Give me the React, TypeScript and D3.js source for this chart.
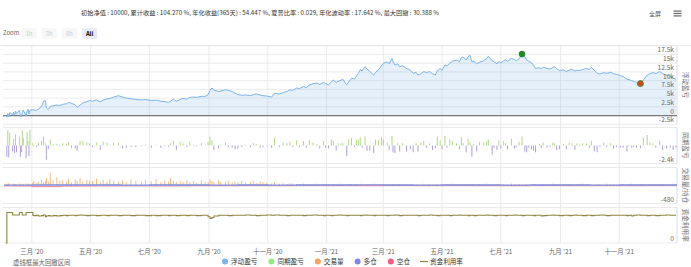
import React from 'react';
import * as d3 from 'd3';

// ---------- DATA ----------
const monthKeys = ['2020-02','2020-03','2020-04','2020-05','2020-06','2020-07','2020-08','2020-09','2020-10','2020-11','2020-12',
  '2021-01','2021-02','2021-03','2021-04','2021-05','2021-06','2021-07','2021-08','2021-09','2021-10','2021-11','2021-12'];

const tradeDays: number[][] = [
  [3,4,5,6,7,10,11,12,13,14,17,18,19,20,21,24,25,26,27,28],
  [2,3,6,8,11,13,15,16,18,20,23,27,30],
  [2,6,8,11,15,17,20,23,27,30],
  [3,7,11,14,18,21,25,30],
  [3,7,12,17,23,27],
  [3,8,13,17,21,23,26,29],
  [2,5,9,12,16,19,24,28,31],
  [2,4,6,11,13,18,21,25,28],
  [1,5,9,14,17,20,24,27,31],
  [5,8,13,17,21,24,27],
  [1,4,8,11,14,18,22,25,29,31],
  [3,6,8,11,13,16,18,22,24,27,30],
  [1,3,5,7,10,12,15,19,21,24,27],
  [1,5,7,10,11,13,16,18,21,25,29],
  [1,4,6,9,12,15,18,21,24,26,29],
  [1,4,6,9,12,16,19,21,23,26,28,30],
  [1,3,6,9,13,16,18,22,24,27,29],
  [1,4,6,8,12,15,17,20,23,26,28,30],
  [2,4,6,10,12,14,18,21,24,26,28,31],
  [4,7,10,13,16,18,21,24,28],
  [1,3,6,9,12,16,19,23,26,29],
  [2,5,9,11,14,16,19,23,26,30],
  [3,6,9,13,16,20,24,27,30],
];

// 浮动盈亏
const floatPnl: number[][] = [
  [0,-500,600,-300,900,200,1000,100,1300,500,1500,300,-400,800,1600,-100,1300,1800,500,1500],
  [1700,1600,1500,1900,2600,4100,4300,2200,1700,2600,2800,3000,2900],
  [3200,3400,3800,3500,3100,2400,3000,3600,4000,4300],
  [4100,4500,3900,4400,4800,4900,5300,5700],
  [5300,5000,4800,4600,4500,4600],
  [4300,4400,4100,4000,3800,4100,4700,4100],
  [4600,4900,4700,5200,5300,5200,5500,5500,6000],
  [7200,7900,7300,6900,7000,7400,7200,6900,6400],
  [6000,5800,5900,5700,6000,6200,5900,5700,5600],
  [5300,6400,6200,6600,6900,7400,7200],
  [7900,7700,8300,8000,8700,9100,9300,8900,9500,9200],
  [8800,9600,10200,9500,9800,10100,10400,8800,9600,10700,10500],
  [11200,12000,13100,12800,14000,13300,12600,11600,12400,13100,14200],
  [15000,15400,14800,16400,15500,14500,14800,14000,14300,13500,13000],
  [12100,12400,11600,12000,12600,12300,12600,12000,11600,12800,13500],
  [13000,14500,14200,15000,15600,15900,15400,16500,16800,15900,16800,17300],
  [15400,15600,14800,15300,15700,16200,17000,15700,15400,14800,15500],
  [15100,15700,16000,15500,16400,16000,15700,16200,17600,16800,15900,15600],
  [15100,14400,13500,13700,13400,13800,13500,13300,13700,14000,13400,12900],
  [13100,12600,13000,13300,12700,13000,12900,13200,13500],
  [13200,13800,13000,12100,11900,12300,12100,12400,12000,11800],
  [11500,11200,10400,10300,10000,9800,9500,9150,10200,11600],
  [12000,12300,12000,12600,12000,11600,11300,10700,10427],
];

// 同期盈亏
const dailyPnl: number[][] = [
  [0,-1500,2000,-1600,1700,-800,900,-1000,1500,-900,1200,-1500,-900,2000,1000,-1700,1800,600,-1400,2100],
  [300,-100,-200,400,600,1200,300,-1900,-500,800,200,200,-100],
  [300,200,400,-300,-400,-700,600,600,400,300],
  [-200,400,-600,500,400,100,400,400],
  [-400,-300,-200,-200,-100,100],
  [-300,100,-300,-100,-200,300,600,-600],
  [500,300,-200,500,100,-100,300,100,500],
  [1200,700,-600,-400,100,400,-200,-300,-500],
  [-400,-200,100,-200,300,200,-300,-200,-100],
  [-300,1000,-200,400,300,500,-200],
  [700,-200,600,-300,700,400,200,-400,600,-300],
  [-400,800,600,-700,300,300,300,-1400,800,1000,-200],
  [700,800,1100,-300,1200,-700,-700,-1000,800,700,1100],
  [800,400,-600,1300,-900,-1000,300,-800,300,-800,-500],
  [-900,300,-800,400,600,-300,300,-600,-400,1200,700],
  [-500,1300,-300,800,600,300,-500,1100,300,-900,900,500],
  [-1500,200,-800,500,400,500,800,-1200,-300,-600,700],
  [-400,600,300,-500,900,-400,-300,500,1200,-800,-900,-300],
  [-500,-700,-900,200,-300,400,-300,-200,400,300,-600,-500],
  [200,-500,400,300,-600,300,-100,300,300],
  [-300,600,-800,-900,-200,400,-200,300,-400,-200],
  [-300,-300,-800,-100,-300,-200,-300,-350,1050,1400],
  [400,300,-300,600,-600,-400,-300,-600,-273],
];

// 交易量
const volume: number[][] = [
  [30,50,20,60,40,30,50,20,40,30,60,30,20,50,40,60,30,40,50,30],
  [80,120,60,100,150,90,130,200,110,340,150,220,120],
  [140,100,180,90,160,120,200,110,150,130],
  [120,180,90,150,100,170,130,110],
  [140,90,160,120,100,150],
  [110,170,90,130,100,200,120,90],
  [130,100,150,90,120,80,140,100,90],
  [160,120,100,140,90,110,130,80,100],
  [90,120,80,100,130,70,110,90,80],
  [60,90,50,70,40,60,50],
  [40,30,50,20,40,30,50,20,30,40],
  [30,20,40,30,20,50,30,20,40,30,20],
  [40,30,50,20,30,40,30,50,20,30,40],
  [30,40,20,50,30,20,40,30,20,40,30],
  [20,40,30,20,50,30,40,20,30,40,30],
  [30,20,40,30,50,20,30,40,20,30,40,30],
  [40,30,20,40,30,50,20,30,40,30,20],
  [30,40,20,30,50,30,20,40,30,20,40,30],
  [20,30,40,20,30,40,30,20,50,30,40,20],
  [30,20,40,30,20,40,30,50,20],
  [40,30,20,40,30,20,50,30,40,20],
  [30,40,20,30,50,30,20,40,30,20],
  [40,30,20,30,40,20,30,50,30],
];

// 资金利用率
const utilization: number[][] = [
  [0,0.86,0.86,0.86,0.86,0.79,0.79,0.79,0.79,0.79,0.86,0.86,0.86,0.79,0.79,0.86,0.86,0.86,0.86,0.86],
  [0.78,0.77,0.78,0.76,0.77,0.79,0.74,0.76,0.77,0.76,0.77,0.76,0.77],
  [0.78,0.77,0.78,0.78,0.77,0.78,0.79,0.78,0.77,0.78],
  [0.78,0.77,0.78,0.78,0.77,0.78,0.78,0.77],
  [0.78,0.78,0.77,0.78,0.78,0.77],
  [0.78,0.77,0.78,0.78,0.77,0.78,0.78,0.77],
  [0.78,0.78,0.77,0.78,0.78,0.77,0.78,0.78,0.74],
  [0.69,0.72,0.76,0.78,0.78,0.78,0.77,0.78,0.78],
  [0.78,0.78,0.79,0.78,0.78,0.77,0.78,0.78,0.79],
  [0.78,0.79,0.78,0.78,0.77,0.78,0.78],
  [0.78,0.78,0.77,0.78,0.78,0.79,0.78,0.78,0.77,0.78],
  [0.78,0.77,0.78,0.78,0.79,0.78,0.78,0.77,0.78,0.78,0.78],
  [0.78,0.78,0.77,0.78,0.79,0.78,0.78,0.77,0.78,0.78,0.78],
  [0.78,0.77,0.78,0.78,0.78,0.79,0.78,0.77,0.78,0.78,0.78],
  [0.78,0.78,0.77,0.78,0.78,0.78,0.79,0.78,0.78,0.77,0.78],
  [0.78,0.78,0.78,0.77,0.78,0.78,0.79,0.78,0.78,0.78,0.77,0.78],
  [0.78,0.77,0.78,0.78,0.78,0.79,0.78,0.78,0.77,0.78,0.78],
  [0.78,0.78,0.77,0.78,0.78,0.79,0.78,0.78,0.77,0.78,0.78,0.78],
  [0.78,0.77,0.78,0.78,0.76,0.77,0.78,0.78,0.79,0.78,0.78,0.77],
  [0.78,0.78,0.77,0.78,0.79,0.78,0.78,0.77,0.78],
  [0.78,0.77,0.78,0.78,0.79,0.78,0.77,0.78,0.78,0.78],
  [0.78,0.78,0.77,0.78,0.76,0.78,0.79,0.78,0.78,0.77],
  [0.78,0.78,0.77,0.78,0.78,0.79,0.78,0.78,0.78],
];

// 多仓 / 空仓 (monthly)
const longPos = [10,15,12,14,10,12,15,11,13,10,12,14,16,12,10,13,15,11,12,14,10,12,13];
const shortPos = [-12,-30,-15,-10,-8,-10,-8,-6,-5,-6,-4,-5,-6,-4,-5,-4,-5,-6,-4,-5,-4,-5,-4];

const p1Ticks = [-2500, 0, 2500, 5000, 7500, 10000, 12500, 15000, 17500, 20000];
const monthNames = ['一月','二月','三月','四月','五月','六月','七月','八月','九月','十月','十一月','十二月'];
const titleText = '初始净值 : 10000, 累计收益 : 104.270 %, 年化收益(365天) : 54.447 %, 夏普比率 : 0.029, 年化波动率 : 17.642 %, 最大回撤 : 30.388 %';
const legendItems = [
  { name: '浮动盈亏', color: '#7cb5ec', type: 'dot' },
  { name: '同期盈亏', color: '#90ed7d', type: 'dot' },
  { name: '交易量', color: '#f7a35c', type: 'dot' },
  { name: '多仓', color: '#8085e9', type: 'dot' },
  { name: '空仓', color: '#f15c80', type: 'dot' },
  { name: '资金利用率', color: '#8f8540', type: 'line' },
];
const zoomButtons = ['1h', '3h', '8h', 'All'];

type Row = { date: Date; float: number; daily: number; vol: number; util: number };

function buildRows(): Row[] {
  const rows: Row[] = [];
  monthKeys.forEach((mk, m) => {
    const [yy, mm] = mk.split('-').map(Number);
    tradeDays[m].forEach((d, i) => {
      const f = floatPnl[m][i], dp = dailyPnl[m][i], v = volume[m][i], u = utilization[m][i];
      if (f === undefined) return;
      rows.push({ date: new Date(yy, mm - 1, d), float: f, daily: dp ?? 0, vol: v ?? 0, util: u ?? 0.78 });
    });
  });
  return rows;
}

const FONT = '"Noto Sans CJK SC", "Noto Sans", sans-serif';

export default function App() {
  const W = 691, H = 267;
  const rows = buildRows();
  const left = 3, right = 677;
  const x = d3.scaleTime().domain([new Date(2020, 0, 31), new Date(2021, 11, 31)]).range([left, right]);
  const y1 = d3.scaleLinear().domain([-2500, 20000]).range([124.3, 45.7]);
  const y2 = d3.scaleLinear().domain([-2400, 2400]).range([163.5, 127.5]);
  const y3 = d3.scaleLinear().domain([-480, 480]).range([203.5, 167.5]);
  const y4 = d3.scaleLinear().domain([0, 1]).range([243, 207.5]);

  const area = d3.area<Row>().x(d => x(d.date)).y0(y1(0)).y1(d => y1(d.float));
  const line = d3.line<Row>().x(d => x(d.date)).y(d => y1(d.float));
  const utilLine = d3.line<Row>().x(d => x(d.date)).y(d => y4(d.util)).curve(d3.curveStepAfter);
  const monthDates = monthKeys.map(mk => { const [a, b] = mk.split('-').map(Number); return new Date(a, b - 1, 1); });
  const posData = monthDates.map((d, i) => ({ date: d, l: longPos[i], s: shortPos[i] }));
  posData.push({ date: new Date(2021, 11, 31), l: longPos[longPos.length - 1], s: shortPos[shortPos.length - 1] });
  const longLine = d3.line<any>().x(d => x(d.date)).y(d => y3(d.l)).curve(d3.curveStepAfter);
  const shortLine = d3.line<any>().x(d => x(d.date)).y(d => y3(d.s)).curve(d3.curveStepAfter);

  // peak and trough
  let pi = 0;
  rows.forEach((r, i) => { if (r.float > rows[pi].float) pi = i; });
  let ti = pi;
  for (let i = pi; i < rows.length; i++) if (rows[i].float < rows[ti].float) ti = i;

  const xTicks = d3.timeMonth.range(new Date(2020, 2, 1), new Date(2021, 11, 2), 2);
  const fmtK = (v: number) => (v === 0 ? '0' : `${v / 1000}k`);

  const panels = [
    { top: 45.7, bottom: 124.3, title: '浮动盈亏' },
    { top: 127.5, bottom: 163.5, title: '同期盈亏' },
    { top: 167.5, bottom: 203.5, title: '交易量/持仓' },
    { top: 207.5, bottom: 243, title: '资金利用率' },
  ];

  // legend layout
  const legFont = 6.6;
  const charW = (s: string) => {
    let w = 0;
    for (const ch of s) w += /[\u4e00-\u9fff]/.test(ch) ? legFont : legFont * 0.55;
    return w;
  };
  const itemW = legendItems.map(it => 10 + charW(it.name));
  const legTotal = itemW.reduce((a, b) => a + b, 0) + 10 * (legendItems.length - 1);
  let lx = 345 - legTotal / 2 - 3;
  const legPos = itemW.map(w => { const p = lx; lx += w + 10; return p; });

  return (
    <svg width={W} height={H} style={{ position: 'absolute', left: 0, top: 0, fontFamily: FONT }} xmlns="http://www.w3.org/2000/svg">
      <rect x={0} y={0} width={W} height={H} fill="#fff" />
      {/* title */}
      <text x={260} y={15} fontSize={6.2} fill="#333" textAnchor="middle">{titleText}</text>
      <text x={655} y={16} fontSize={6} fill="#555" textAnchor="middle">全屏</text>
      {[0, 1, 2].map(i => (
        <rect key={i} x={673.5} y={10.5 + i * 2.4} width={8} height={1.2} fill="#666" />
      ))}
      {/* zoom */}
      <text x={3} y={35.3} fontSize={6} fill="#666">Zoom</text>
      {zoomButtons.map((b, i) => {
        const bx = 21.5 + i * 20.2;
        const sel = b === 'All';
        return (
          <g key={b}>
            <rect x={bx} y={28.3} width={15} height={10.5} rx={1} fill={sel ? '#e6ebf5' : '#f7f7f7'} />
            <text x={bx + 7.5} y={35.6} fontSize={5.8} textAnchor="middle" fill={sel ? '#000' : '#ccc'} fontWeight={sel ? 'bold' : 'normal'}>{b}</text>
          </g>
        );
      })}

      {/* vertical grid */}
      {xTicks.map((t, i) => (
        <line key={i} x1={x(t)} x2={x(t)} y1={45.7} y2={243} stroke="#e6e6e6" strokeWidth={0.8} />
      ))}
      {/* panel 1 grid */}
      {p1Ticks.map(t => (
        <line key={t} x1={left} x2={right} y1={y1(t)} y2={y1(t)} stroke="#e6e6e6" strokeWidth={0.8} />
      ))}
      <line x1={0} x2={W} y1={45.7} y2={45.7} stroke="#e6e6e6" strokeWidth={0.8} />
      {panels.slice(1).map((p, i) => (
        <g key={i}>
          <line x1={left} x2={right} y1={p.top} y2={p.top} stroke="#e6e6e6" strokeWidth={0.8} />
          <line x1={left} x2={right} y1={p.bottom} y2={p.bottom} stroke="#e6e6e6" strokeWidth={0.8} />
        </g>
      ))}
      {panels.map((p, i) => (
        <line key={i} x1={right} x2={right} y1={p.top} y2={p.bottom} stroke="#ccd6eb" strokeWidth={0.8} />
      ))}

      {/* panel 1 series */}
      <path d={area(rows) || ''} fill="#7cb5ec" fillOpacity={0.2} />
      <line x1={left} x2={right} y1={y1(0)} y2={y1(0)} stroke="#777" strokeWidth={1.3} />
      <path d={line(rows) || ''} fill="none" stroke="#7cb5ec" strokeWidth={1} />
      <circle cx={x(rows[pi].date)} cy={y1(rows[pi].float)} r={3} fill="#1e8c1e" stroke="#2a5f2a" strokeWidth={0.5} />
      <circle cx={x(rows[ti].date)} cy={y1(rows[ti].float)} r={3} fill="#c8501e" stroke="#3d7a2a" strokeWidth={0.8} />

      {/* panel 2 bars */}
      {rows.map((r, i) => (
        <rect key={i} x={x(r.date) - 0.45} width={0.9} y={Math.min(y2(r.daily), y2(0))} height={Math.abs(y2(r.daily) - y2(0))}
          fill={r.daily >= 0 ? '#a8d47a' : '#a596d6'} />
      ))}

      {/* panel 3 */}
      {rows.map((r, i) => (
        <rect key={i} x={x(r.date) - 0.45} width={0.9} y={y3(r.vol)} height={y3(0) - y3(r.vol)} fill="#f7a35c" fillOpacity={0.85} />
      ))}
      <path d={shortLine(posData) || ''} fill="none" stroke="#f15c80" strokeWidth={0.8} />
      <path d={longLine(posData) || ''} fill="none" stroke="#7a8ee0" strokeWidth={1.4} />

      {/* panel 4 */}
      <path d={utilLine(rows) || ''} fill="none" stroke="#8f8540" strokeWidth={1.1} />

      {/* y labels */}
      {p1Ticks.slice(0, -1).map(t => (
        <text key={t} x={674} y={y1(t) - 2} fontSize={6.6} fill="#666" textAnchor="end">{fmtK(t)}</text>
      ))}
      <text x={674} y={y2(-2400) - 2} fontSize={6.6} fill="#666" textAnchor="end">-2.4k</text>
      <text x={674} y={y3(-480) - 2} fontSize={6.6} fill="#666" textAnchor="end">-480</text>
      <text x={674} y={y4(0) - 2} fontSize={6.6} fill="#666" textAnchor="end">0</text>

      {/* axis titles */}
      {panels.map((p, i) => {
        const cy = (p.top + p.bottom) / 2;
        return (
          <text key={i} transform={`translate(683,${cy}) rotate(90)`} fontSize={6.6} fill="#666" textAnchor="middle">{p.title}</text>
        );
      })}

      {/* x labels */}
      {xTicks.map((t, i) => (
        <text key={i} x={x(t)} y={254} fontSize={6.4} fill="#666" textAnchor="middle">
          {`${monthNames[t.getMonth()]} '${String(t.getFullYear()).slice(2)}`}
        </text>
      ))}

      {/* bottom note */}
      <text x={13} y={264.5} fontSize={6.4} fill="#666">虚线框最大回撤区间</text>

      {/* legend */}
      {legendItems.map((it, i) => {
        const px = legPos[i];
        return (
          <g key={it.name}>
            {it.type === 'dot'
              ? <circle cx={px + 4} cy={261.5} r={3} fill={it.color} />
              : <line x1={px} x2={px + 8} y1={261.5} y2={261.5} stroke={it.color} strokeWidth={1.2} />}
            <text x={px + 10} y={264} fontSize={legFont} fill="#333">{it.name}</text>
          </g>
        );
      })}
    </svg>
  );
}
